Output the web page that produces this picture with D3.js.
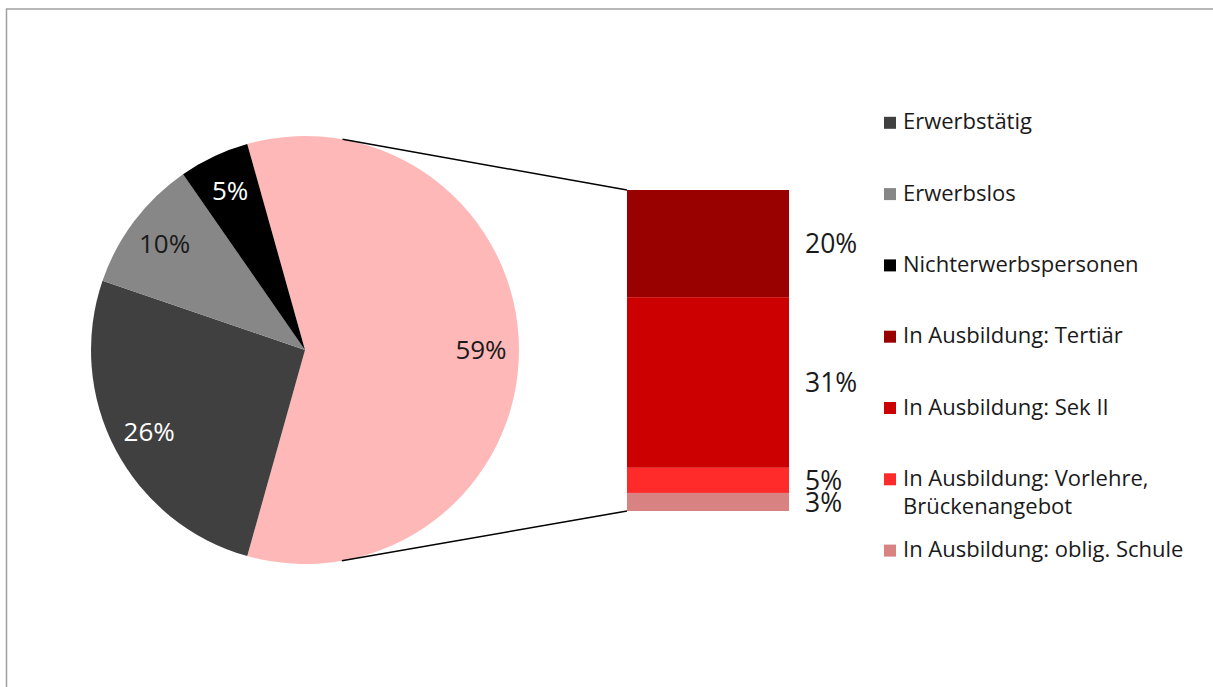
<!DOCTYPE html>
<html>
<head>
<meta charset="utf-8">
<script src="https://cdn.jsdelivr.net/npm/d3@7"></script>
<style>
    html, body { margin: 0; padding: 0; background: #fff; }
    div#container { width: 1213px; height: 687px; }
    text { font-family: "Open Sans", "Noto Sans", sans-serif; }
</style>
</head>
<body>
<div id="container"></div>
<script>
// --- data (percent of all persons) ---
// main pie: the remaining slices (the "In Ausbildung" slice is the sum of the bar)
var pieCategories = ["Erwerbstätig", "Erwerbslos", "Nichterwerbspersonen"];
var pieValues = [25.9, 10.1, 5.3];
var pieColors = ["#404040", "#878787", "#000000"];
var pieLabelColors = ["#ffffff", "#1a1a1a", "#ffffff"];

// split bar: "In Ausbildung" broken down (top to bottom)
var barCategories = ["In Ausbildung: Tertiär", "In Ausbildung: Sek II",
    "In Ausbildung: Vorlehre,\nBrückenangebot", "In Ausbildung: oblig. Schule"];
var barValues = [19.6, 31.2, 4.6, 3.3];
var barColors = ["#990000", "#cc0000", "#ff2b2b", "#d98282"];
var otherColor = "#ffb8b8";

var svgWidth = 1213, svgHeight = 687;

var svg = d3.select("div#container")
    .append("svg")
    .attr("width", svgWidth)
    .attr("height", svgHeight);

// outer frame (right/bottom edges fall outside the picture)
svg.append("rect")
    .attr("x", 6.5)
    .attr("y", 9)
    .attr("width", 1400)
    .attr("height", 1000)
    .attr("fill", "none")
    .attr("stroke", "#a0a0a0")
    .attr("stroke-width", 1.5);

var fmt = d3.format(".0f");

// --- PIE ---
var cx = 305, cy = 350, R = 214;
var otherTotal = d3.sum(barValues);
var total = otherTotal + d3.sum(pieValues);

var pieData = [{ value: otherTotal, color: otherColor, labelColor: "#1a1a1a" }]
    .concat(pieValues.map((v, i) => ({ value: v, color: pieColors[i], labelColor: pieLabelColors[i] })));

// the "other" slice is centred on the right side (3 o'clock)
var otherAngle = 2 * Math.PI * otherTotal / total;
var pie = d3.pie()
    .sort(null)
    .value(d => d.value)
    .startAngle(Math.PI / 2 - otherAngle / 2)
    .endAngle(Math.PI / 2 - otherAngle / 2 + 2 * Math.PI);

var arc = d3.arc().innerRadius(0).outerRadius(R);
var labelArc = d3.arc().innerRadius(176).outerRadius(176);

var g = svg.append("g").attr("transform", "translate(" + cx + "," + cy + ")");

var arcs = pie(pieData);

g.selectAll("path.slice")
    .data(arcs)
    .enter()
    .append("path")
    .attr("class", "slice")
    .attr("d", arc)
    .attr("fill", d => d.data.color);

g.selectAll("text.pieLabel")
    .data(arcs)
    .enter()
    .append("text")
    .attr("class", "pieLabel")
    .attr("transform", d => "translate(" + labelArc.centroid(d) + ")")
    .attr("dy", "0.36em")
    .attr("text-anchor", "middle")
    .style("font-size", "26px")
    .attr("fill", d => d.data.labelColor)
    .text(d => fmt(d.data.value) + "%");

// --- BAR ---
var barX0 = 627, barX1 = 789, barTop = 190, barBottom = 511;
var y = d3.scaleLinear().domain([0, otherTotal]).range([barTop, barBottom]);

var stacked = [];
var acc = 0;
barValues.forEach(function (v, i) {
    stacked.push({ y0: acc, y1: acc + v, value: v, color: barColors[i] });
    acc += v;
});

svg.selectAll("rect.seg")
    .data(stacked)
    .enter()
    .append("rect")
    .attr("class", "seg")
    .attr("x", barX0)
    .attr("width", barX1 - barX0)
    .attr("y", d => y(d.y0))
    .attr("height", d => y(d.y1) - y(d.y0))
    .attr("fill", d => d.color);

svg.selectAll("text.barLabel")
    .data(stacked)
    .enter()
    .append("text")
    .attr("class", "barLabel")
    .attr("x", 805)
    .attr("y", d => (y(d.y0) + y(d.y1)) / 2)
    .attr("dy", "0.36em")
    .style("font-size", "26.5px")
    .attr("fill", "#1a1a1a")
    .text(d => fmt(d.value) + "%");

// --- connector lines: tangent from bar corners to the pie ---
function tangentPoint(px, py, sign) {
    var dx = px - cx, dy = py - cy;
    var d = Math.sqrt(dx * dx + dy * dy);
    var base = Math.atan2(dy, dx);
    var a = base + sign * Math.acos(R / d);
    return [cx + R * Math.cos(a), cy + R * Math.sin(a)];
}
[[barX0, barTop, -1], [barX0, barBottom, 1]].forEach(function (c) {
    var t = tangentPoint(c[0], c[1], c[2]);
    svg.append("line")
        .attr("x1", t[0]).attr("y1", t[1])
        .attr("x2", c[0]).attr("y2", c[1])
        .attr("stroke", "#000")
        .attr("stroke-width", 1.5);
});

// --- Legend ---
var legendItems = pieCategories.map((c, i) => ({ label: c, color: pieColors[i] }))
    .concat(barCategories.map((c, i) => ({ label: c, color: barColors[i] })));

var legend = svg.append("g");
legendItems.forEach(function (item, i) {
    var base = 129.3 + i * 71.3;
    legend.append("rect")
        .attr("x", 884)
        .attr("y", base - 12.5)
        .attr("width", 12)
        .attr("height", 12)
        .attr("fill", item.color);
    var t = legend.append("text")
        .attr("x", 903)
        .attr("y", base)
        .style("font-size", "22px")
        .attr("fill", "#1a1a1a");
    item.label.split("\n").forEach(function (line, j) {
        t.append("tspan")
            .attr("x", 903)
            .attr("dy", j === 0 ? 0 : 28)
            .text(line);
    });
});
</script>
</body>
</html>
